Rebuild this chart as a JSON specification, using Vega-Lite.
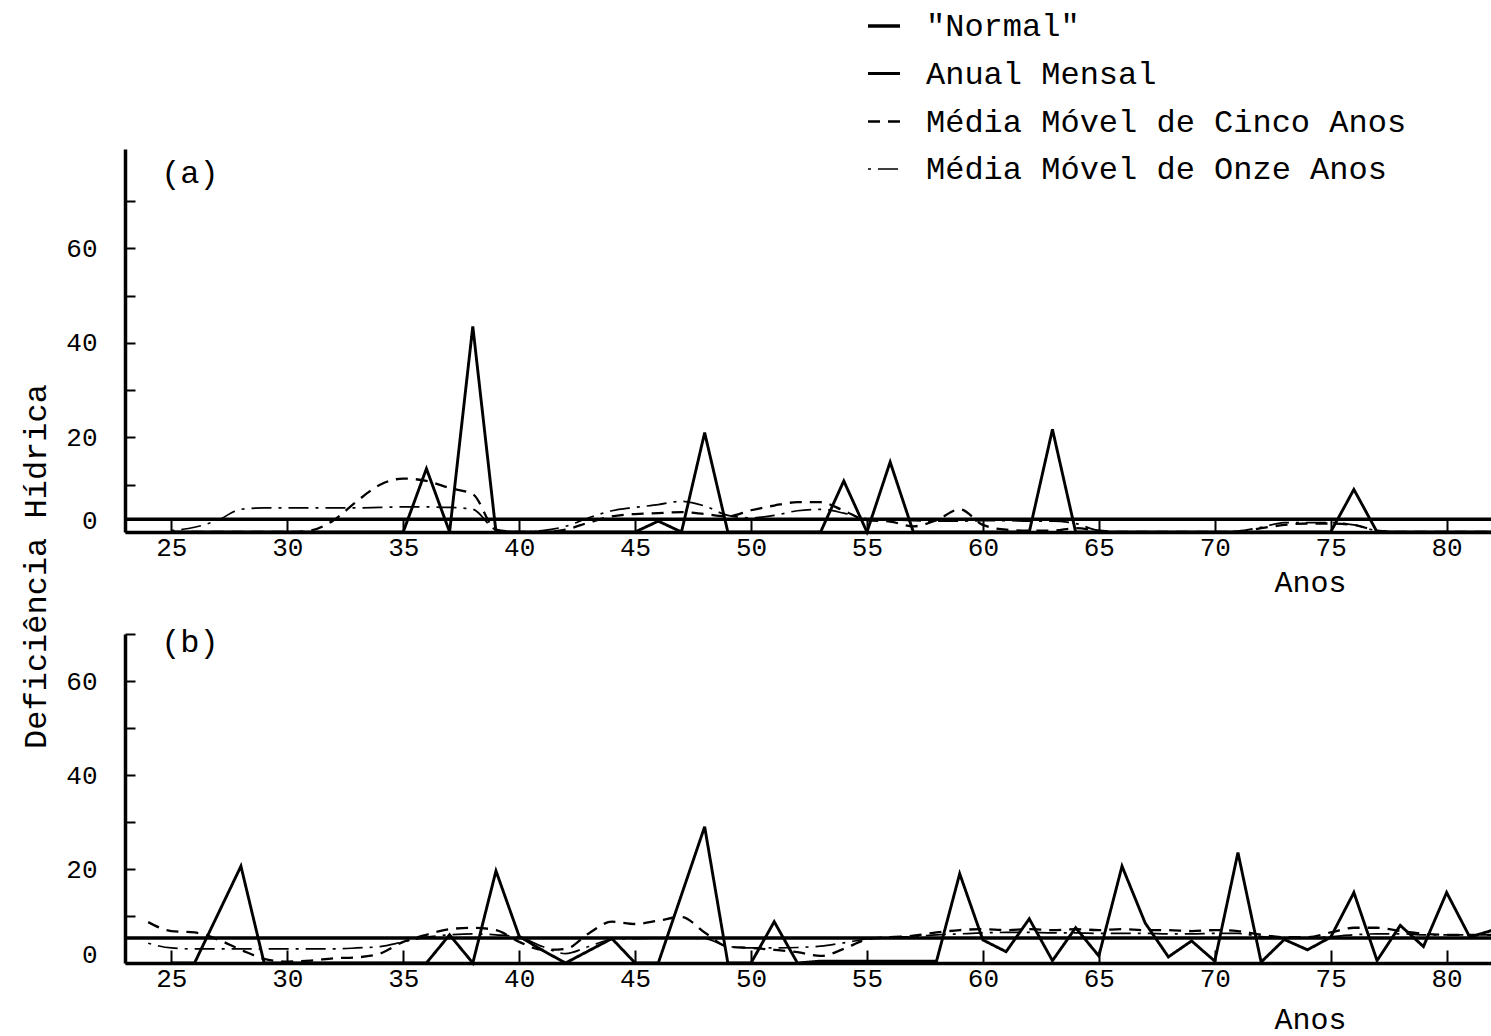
{
  "$schema": "https://vega.github.io/schema/vega-lite/v6.json",
  "background": "white",
  "autosize": {"type": "pad"},
  "padding": {"left": 19, "top": 8, "right": 0, "bottom": 12},
  "bounds": "flush",
  "spacing": 102,
  "config": {
    "view": {"stroke": null},
    "font": "Liberation Mono",
    "axis": {
      "grid": false,
      "domainColor": "black",
      "domainWidth": 3.5,
      "tickColor": "black",
      "tickWidth": 2,
      "labelColor": "black",
      "labelFont": "Liberation Mono",
      "labelFontSize": 26,
      "titleColor": "black",
      "titleFont": "Liberation Mono",
      "titleFontSize": 31,
      "titleFontWeight": "normal"
    },
    "legend": {
      "padding": 0,
      "labelFont": "Liberation Mono",
      "labelFontSize": 32,
      "labelColor": "black",
      "labelLimit": 0,
      "symbolType": "stroke",
      "symbolSize": 1024,
      "symbolStrokeColor": "black",
      "symbolStrokeWidth": 2.5,
      "labelOffset": 24,
      "rowPadding": 14
    }
  },
  "datasets": {
    "deficit": [
      {"painel":"a","serie":"\"Normal\"","ano":23,"valor":2.7},{"painel":"a","serie":"\"Normal\"","ano":82,"valor":2.7},
      {"painel":"a","serie":"Anual Mensal","ano":25,"valor":0},{"painel":"a","serie":"Anual Mensal","ano":26,"valor":0},{"painel":"a","serie":"Anual Mensal","ano":27,"valor":0},{"painel":"a","serie":"Anual Mensal","ano":28,"valor":0},{"painel":"a","serie":"Anual Mensal","ano":29,"valor":0},{"painel":"a","serie":"Anual Mensal","ano":30,"valor":0},{"painel":"a","serie":"Anual Mensal","ano":31,"valor":0},{"painel":"a","serie":"Anual Mensal","ano":32,"valor":0},{"painel":"a","serie":"Anual Mensal","ano":33,"valor":0},{"painel":"a","serie":"Anual Mensal","ano":34,"valor":0},{"painel":"a","serie":"Anual Mensal","ano":35,"valor":0},{"painel":"a","serie":"Anual Mensal","ano":36,"valor":13.4},{"painel":"a","serie":"Anual Mensal","ano":37,"valor":0},{"painel":"a","serie":"Anual Mensal","ano":38,"valor":43.5},{"painel":"a","serie":"Anual Mensal","ano":39,"valor":0},{"painel":"a","serie":"Anual Mensal","ano":40,"valor":0},{"painel":"a","serie":"Anual Mensal","ano":41,"valor":0},{"painel":"a","serie":"Anual Mensal","ano":42,"valor":0},{"painel":"a","serie":"Anual Mensal","ano":43,"valor":0},{"painel":"a","serie":"Anual Mensal","ano":44,"valor":0},{"painel":"a","serie":"Anual Mensal","ano":45,"valor":0},{"painel":"a","serie":"Anual Mensal","ano":46,"valor":2.3},{"painel":"a","serie":"Anual Mensal","ano":47,"valor":0},{"painel":"a","serie":"Anual Mensal","ano":48,"valor":21},{"painel":"a","serie":"Anual Mensal","ano":49,"valor":0},{"painel":"a","serie":"Anual Mensal","ano":50,"valor":0},{"painel":"a","serie":"Anual Mensal","ano":51,"valor":0},{"painel":"a","serie":"Anual Mensal","ano":52,"valor":0},{"painel":"a","serie":"Anual Mensal","ano":53,"valor":0},{"painel":"a","serie":"Anual Mensal","ano":54,"valor":10.8},{"painel":"a","serie":"Anual Mensal","ano":55,"valor":0},{"painel":"a","serie":"Anual Mensal","ano":56,"valor":14.8},{"painel":"a","serie":"Anual Mensal","ano":57,"valor":0},{"painel":"a","serie":"Anual Mensal","ano":58,"valor":0},{"painel":"a","serie":"Anual Mensal","ano":59,"valor":0},{"painel":"a","serie":"Anual Mensal","ano":60,"valor":0},{"painel":"a","serie":"Anual Mensal","ano":61,"valor":0},{"painel":"a","serie":"Anual Mensal","ano":62,"valor":0},{"painel":"a","serie":"Anual Mensal","ano":63,"valor":21.7},{"painel":"a","serie":"Anual Mensal","ano":64,"valor":0},{"painel":"a","serie":"Anual Mensal","ano":65,"valor":0},{"painel":"a","serie":"Anual Mensal","ano":66,"valor":0},{"painel":"a","serie":"Anual Mensal","ano":67,"valor":0},{"painel":"a","serie":"Anual Mensal","ano":68,"valor":0},{"painel":"a","serie":"Anual Mensal","ano":69,"valor":0},{"painel":"a","serie":"Anual Mensal","ano":70,"valor":0},{"painel":"a","serie":"Anual Mensal","ano":71,"valor":0},{"painel":"a","serie":"Anual Mensal","ano":72,"valor":0},{"painel":"a","serie":"Anual Mensal","ano":73,"valor":0},{"painel":"a","serie":"Anual Mensal","ano":74,"valor":0},{"painel":"a","serie":"Anual Mensal","ano":75,"valor":0},{"painel":"a","serie":"Anual Mensal","ano":76,"valor":9},{"painel":"a","serie":"Anual Mensal","ano":77,"valor":0},{"painel":"a","serie":"Anual Mensal","ano":78,"valor":0},{"painel":"a","serie":"Anual Mensal","ano":79,"valor":0},{"painel":"a","serie":"Anual Mensal","ano":80,"valor":0},{"painel":"a","serie":"Anual Mensal","ano":81,"valor":0},{"painel":"a","serie":"Anual Mensal","ano":82,"valor":0},
      {"painel":"a","serie":"Média Móvel de Cinco Anos","ano":25,"valor":0},{"painel":"a","serie":"Média Móvel de Cinco Anos","ano":26,"valor":0},{"painel":"a","serie":"Média Móvel de Cinco Anos","ano":27,"valor":0},{"painel":"a","serie":"Média Móvel de Cinco Anos","ano":28,"valor":0},{"painel":"a","serie":"Média Móvel de Cinco Anos","ano":29,"valor":0},{"painel":"a","serie":"Média Móvel de Cinco Anos","ano":30,"valor":0},{"painel":"a","serie":"Média Móvel de Cinco Anos","ano":31,"valor":0.3},{"painel":"a","serie":"Média Móvel de Cinco Anos","ano":32,"valor":2.5},{"painel":"a","serie":"Média Móvel de Cinco Anos","ano":33,"valor":6.5},{"painel":"a","serie":"Média Móvel de Cinco Anos","ano":34,"valor":10},{"painel":"a","serie":"Média Móvel de Cinco Anos","ano":35,"valor":11.3},{"painel":"a","serie":"Média Móvel de Cinco Anos","ano":36,"valor":10.8},{"painel":"a","serie":"Média Móvel de Cinco Anos","ano":37,"valor":9.3},{"painel":"a","serie":"Média Móvel de Cinco Anos","ano":38,"valor":8},{"painel":"a","serie":"Média Móvel de Cinco Anos","ano":39,"valor":0.5},{"painel":"a","serie":"Média Móvel de Cinco Anos","ano":40,"valor":0},{"painel":"a","serie":"Média Móvel de Cinco Anos","ano":41,"valor":0},{"painel":"a","serie":"Média Móvel de Cinco Anos","ano":42,"valor":0.5},{"painel":"a","serie":"Média Móvel de Cinco Anos","ano":43,"valor":2},{"painel":"a","serie":"Média Móvel de Cinco Anos","ano":44,"valor":3.3},{"painel":"a","serie":"Média Móvel de Cinco Anos","ano":45,"valor":3.8},{"painel":"a","serie":"Média Móvel de Cinco Anos","ano":46,"valor":4},{"painel":"a","serie":"Média Móvel de Cinco Anos","ano":47,"valor":4.2},{"painel":"a","serie":"Média Móvel de Cinco Anos","ano":48,"valor":3.8},{"painel":"a","serie":"Média Móvel de Cinco Anos","ano":49,"valor":3.3},{"painel":"a","serie":"Média Móvel de Cinco Anos","ano":50,"valor":4.6},{"painel":"a","serie":"Média Móvel de Cinco Anos","ano":51,"valor":5.6},{"painel":"a","serie":"Média Móvel de Cinco Anos","ano":52,"valor":6.3},{"painel":"a","serie":"Média Móvel de Cinco Anos","ano":53,"valor":6.3},{"painel":"a","serie":"Média Móvel de Cinco Anos","ano":54,"valor":4.5},{"painel":"a","serie":"Média Móvel de Cinco Anos","ano":55,"valor":2.5},{"painel":"a","serie":"Média Móvel de Cinco Anos","ano":56,"valor":2.2},{"painel":"a","serie":"Média Móvel de Cinco Anos","ano":57,"valor":1.2},{"painel":"a","serie":"Média Móvel de Cinco Anos","ano":58,"valor":2.5},{"painel":"a","serie":"Média Móvel de Cinco Anos","ano":59,"valor":4.8},{"painel":"a","serie":"Média Móvel de Cinco Anos","ano":60,"valor":1.5},{"painel":"a","serie":"Média Móvel de Cinco Anos","ano":61,"valor":0.5},{"painel":"a","serie":"Média Móvel de Cinco Anos","ano":62,"valor":0.3},{"painel":"a","serie":"Média Móvel de Cinco Anos","ano":63,"valor":0.3},{"painel":"a","serie":"Média Móvel de Cinco Anos","ano":64,"valor":0.8},{"painel":"a","serie":"Média Móvel de Cinco Anos","ano":65,"valor":0.3},{"painel":"a","serie":"Média Móvel de Cinco Anos","ano":66,"valor":0},{"painel":"a","serie":"Média Móvel de Cinco Anos","ano":67,"valor":0},{"painel":"a","serie":"Média Móvel de Cinco Anos","ano":68,"valor":0},{"painel":"a","serie":"Média Móvel de Cinco Anos","ano":69,"valor":0},{"painel":"a","serie":"Média Móvel de Cinco Anos","ano":70,"valor":0},{"painel":"a","serie":"Média Móvel de Cinco Anos","ano":71,"valor":0},{"painel":"a","serie":"Média Móvel de Cinco Anos","ano":72,"valor":0.8},{"painel":"a","serie":"Média Móvel de Cinco Anos","ano":73,"valor":1.5},{"painel":"a","serie":"Média Móvel de Cinco Anos","ano":74,"valor":1.8},{"painel":"a","serie":"Média Móvel de Cinco Anos","ano":75,"valor":1.8},{"painel":"a","serie":"Média Móvel de Cinco Anos","ano":76,"valor":1.5},{"painel":"a","serie":"Média Móvel de Cinco Anos","ano":77,"valor":0.3},{"painel":"a","serie":"Média Móvel de Cinco Anos","ano":78,"valor":0},{"painel":"a","serie":"Média Móvel de Cinco Anos","ano":79,"valor":0},{"painel":"a","serie":"Média Móvel de Cinco Anos","ano":80,"valor":0},{"painel":"a","serie":"Média Móvel de Cinco Anos","ano":81,"valor":0},{"painel":"a","serie":"Média Móvel de Cinco Anos","ano":82,"valor":0},
      {"painel":"a","serie":"Média Móvel de Onze Anos","ano":25,"valor":0.3},{"painel":"a","serie":"Média Móvel de Onze Anos","ano":26,"valor":1},{"painel":"a","serie":"Média Móvel de Onze Anos","ano":27,"valor":2.5},{"painel":"a","serie":"Média Móvel de Onze Anos","ano":28,"valor":4.8},{"painel":"a","serie":"Média Móvel de Onze Anos","ano":29,"valor":5.1},{"painel":"a","serie":"Média Móvel de Onze Anos","ano":30,"valor":5.1},{"painel":"a","serie":"Média Móvel de Onze Anos","ano":31,"valor":5.1},{"painel":"a","serie":"Média Móvel de Onze Anos","ano":32,"valor":5.1},{"painel":"a","serie":"Média Móvel de Onze Anos","ano":33,"valor":5.1},{"painel":"a","serie":"Média Móvel de Onze Anos","ano":34,"valor":5.2},{"painel":"a","serie":"Média Móvel de Onze Anos","ano":35,"valor":5.3},{"painel":"a","serie":"Média Móvel de Onze Anos","ano":36,"valor":5.3},{"painel":"a","serie":"Média Móvel de Onze Anos","ano":37,"valor":5.2},{"painel":"a","serie":"Média Móvel de Onze Anos","ano":38,"valor":4.8},{"painel":"a","serie":"Média Móvel de Onze Anos","ano":39,"valor":0.5},{"painel":"a","serie":"Média Móvel de Onze Anos","ano":40,"valor":0},{"painel":"a","serie":"Média Móvel de Onze Anos","ano":41,"valor":0.3},{"painel":"a","serie":"Média Móvel de Onze Anos","ano":42,"valor":1.2},{"painel":"a","serie":"Média Móvel de Onze Anos","ano":43,"valor":3},{"painel":"a","serie":"Média Móvel de Onze Anos","ano":44,"valor":4.5},{"painel":"a","serie":"Média Móvel de Onze Anos","ano":45,"valor":5.2},{"painel":"a","serie":"Média Móvel de Onze Anos","ano":46,"valor":5.8},{"painel":"a","serie":"Média Móvel de Onze Anos","ano":47,"valor":6.5},{"painel":"a","serie":"Média Móvel de Onze Anos","ano":48,"valor":5.5},{"painel":"a","serie":"Média Móvel de Onze Anos","ano":49,"valor":3.5},{"painel":"a","serie":"Média Móvel de Onze Anos","ano":50,"valor":3},{"painel":"a","serie":"Média Móvel de Onze Anos","ano":51,"valor":3.5},{"painel":"a","serie":"Média Móvel de Onze Anos","ano":52,"valor":4.5},{"painel":"a","serie":"Média Móvel de Onze Anos","ano":53,"valor":4.8},{"painel":"a","serie":"Média Móvel de Onze Anos","ano":54,"valor":4},{"painel":"a","serie":"Média Móvel de Onze Anos","ano":55,"valor":2.8},{"painel":"a","serie":"Média Móvel de Onze Anos","ano":56,"valor":2.6},{"painel":"a","serie":"Média Móvel de Onze Anos","ano":57,"valor":2.4},{"painel":"a","serie":"Média Móvel de Onze Anos","ano":58,"valor":2.3},{"painel":"a","serie":"Média Móvel de Onze Anos","ano":59,"valor":2.3},{"painel":"a","serie":"Média Móvel de Onze Anos","ano":60,"valor":2.4},{"painel":"a","serie":"Média Móvel de Onze Anos","ano":61,"valor":2.4},{"painel":"a","serie":"Média Móvel de Onze Anos","ano":62,"valor":2.3},{"painel":"a","serie":"Média Móvel de Onze Anos","ano":63,"valor":2.3},{"painel":"a","serie":"Média Móvel de Onze Anos","ano":64,"valor":1.8},{"painel":"a","serie":"Média Móvel de Onze Anos","ano":65,"valor":0.3},{"painel":"a","serie":"Média Móvel de Onze Anos","ano":66,"valor":0},{"painel":"a","serie":"Média Móvel de Onze Anos","ano":67,"valor":0},{"painel":"a","serie":"Média Móvel de Onze Anos","ano":68,"valor":0},{"painel":"a","serie":"Média Móvel de Onze Anos","ano":69,"valor":0},{"painel":"a","serie":"Média Móvel de Onze Anos","ano":70,"valor":0},{"painel":"a","serie":"Média Móvel de Onze Anos","ano":71,"valor":0.2},{"painel":"a","serie":"Média Móvel de Onze Anos","ano":72,"valor":1},{"painel":"a","serie":"Média Móvel de Onze Anos","ano":73,"valor":2},{"painel":"a","serie":"Média Móvel de Onze Anos","ano":74,"valor":2},{"painel":"a","serie":"Média Móvel de Onze Anos","ano":75,"valor":2},{"painel":"a","serie":"Média Móvel de Onze Anos","ano":76,"valor":1.5},{"painel":"a","serie":"Média Móvel de Onze Anos","ano":77,"valor":0.3},{"painel":"a","serie":"Média Móvel de Onze Anos","ano":78,"valor":0},{"painel":"a","serie":"Média Móvel de Onze Anos","ano":79,"valor":0},{"painel":"a","serie":"Média Móvel de Onze Anos","ano":80,"valor":0},{"painel":"a","serie":"Média Móvel de Onze Anos","ano":81,"valor":0},{"painel":"a","serie":"Média Móvel de Onze Anos","ano":82,"valor":0},
      {"painel":"b","serie":"\"Normal\"","ano":23,"valor":5.3},{"painel":"b","serie":"\"Normal\"","ano":82,"valor":5.3},
      {"painel":"b","serie":"Anual Mensal","ano":25,"valor":0},{"painel":"b","serie":"Anual Mensal","ano":26,"valor":0},{"painel":"b","serie":"Anual Mensal","ano":27,"valor":10.3},{"painel":"b","serie":"Anual Mensal","ano":28,"valor":20.6},{"painel":"b","serie":"Anual Mensal","ano":29,"valor":0},{"painel":"b","serie":"Anual Mensal","ano":30,"valor":0},{"painel":"b","serie":"Anual Mensal","ano":31,"valor":0},{"painel":"b","serie":"Anual Mensal","ano":32,"valor":0},{"painel":"b","serie":"Anual Mensal","ano":33,"valor":0},{"painel":"b","serie":"Anual Mensal","ano":34,"valor":0},{"painel":"b","serie":"Anual Mensal","ano":35,"valor":0},{"painel":"b","serie":"Anual Mensal","ano":36,"valor":0},{"painel":"b","serie":"Anual Mensal","ano":37,"valor":6},{"painel":"b","serie":"Anual Mensal","ano":38,"valor":0},{"painel":"b","serie":"Anual Mensal","ano":39,"valor":19.6},{"painel":"b","serie":"Anual Mensal","ano":40,"valor":5.7},{"painel":"b","serie":"Anual Mensal","ano":41,"valor":2.7},{"painel":"b","serie":"Anual Mensal","ano":42,"valor":0},{"painel":"b","serie":"Anual Mensal","ano":43,"valor":2.6},{"painel":"b","serie":"Anual Mensal","ano":44,"valor":5.2},{"painel":"b","serie":"Anual Mensal","ano":45,"valor":0},{"painel":"b","serie":"Anual Mensal","ano":46,"valor":0},{"painel":"b","serie":"Anual Mensal","ano":47,"valor":14.5},{"painel":"b","serie":"Anual Mensal","ano":48,"valor":29},{"painel":"b","serie":"Anual Mensal","ano":49,"valor":0},{"painel":"b","serie":"Anual Mensal","ano":50,"valor":0},{"painel":"b","serie":"Anual Mensal","ano":51,"valor":8.8},{"painel":"b","serie":"Anual Mensal","ano":52,"valor":0},{"painel":"b","serie":"Anual Mensal","ano":53,"valor":0.4},{"painel":"b","serie":"Anual Mensal","ano":54,"valor":0.4},{"painel":"b","serie":"Anual Mensal","ano":55,"valor":0.4},{"painel":"b","serie":"Anual Mensal","ano":56,"valor":0.4},{"painel":"b","serie":"Anual Mensal","ano":57,"valor":0.4},{"painel":"b","serie":"Anual Mensal","ano":58,"valor":0.4},{"painel":"b","serie":"Anual Mensal","ano":59,"valor":19},{"painel":"b","serie":"Anual Mensal","ano":60,"valor":4.9},{"painel":"b","serie":"Anual Mensal","ano":61,"valor":2.4},{"painel":"b","serie":"Anual Mensal","ano":62,"valor":9.4},{"painel":"b","serie":"Anual Mensal","ano":63,"valor":0.5},{"painel":"b","serie":"Anual Mensal","ano":64,"valor":7.5},{"painel":"b","serie":"Anual Mensal","ano":65,"valor":1.5},{"painel":"b","serie":"Anual Mensal","ano":66,"valor":20.6},{"painel":"b","serie":"Anual Mensal","ano":67,"valor":8.5},{"painel":"b","serie":"Anual Mensal","ano":68,"valor":1.3},{"painel":"b","serie":"Anual Mensal","ano":69,"valor":4.7},{"painel":"b","serie":"Anual Mensal","ano":70,"valor":0.4},{"painel":"b","serie":"Anual Mensal","ano":71,"valor":23.5},{"painel":"b","serie":"Anual Mensal","ano":72,"valor":0.2},{"painel":"b","serie":"Anual Mensal","ano":73,"valor":5},{"painel":"b","serie":"Anual Mensal","ano":74,"valor":2.8},{"painel":"b","serie":"Anual Mensal","ano":75,"valor":5.5},{"painel":"b","serie":"Anual Mensal","ano":76,"valor":15},{"painel":"b","serie":"Anual Mensal","ano":77,"valor":0.5},{"painel":"b","serie":"Anual Mensal","ano":78,"valor":8},{"painel":"b","serie":"Anual Mensal","ano":79,"valor":3.5},{"painel":"b","serie":"Anual Mensal","ano":80,"valor":15},{"painel":"b","serie":"Anual Mensal","ano":81,"valor":5.5},{"painel":"b","serie":"Anual Mensal","ano":82,"valor":7},
      {"painel":"b","serie":"Média Móvel de Cinco Anos","ano":24,"valor":8.7},{"painel":"b","serie":"Média Móvel de Cinco Anos","ano":25,"valor":6.8},{"painel":"b","serie":"Média Móvel de Cinco Anos","ano":26,"valor":6.5},{"painel":"b","serie":"Média Móvel de Cinco Anos","ano":27,"valor":5},{"painel":"b","serie":"Média Móvel de Cinco Anos","ano":28,"valor":2.8},{"painel":"b","serie":"Média Móvel de Cinco Anos","ano":29,"valor":0.9},{"painel":"b","serie":"Média Móvel de Cinco Anos","ano":30,"valor":0.3},{"painel":"b","serie":"Média Móvel de Cinco Anos","ano":31,"valor":0.5},{"painel":"b","serie":"Média Móvel de Cinco Anos","ano":32,"valor":1},{"painel":"b","serie":"Média Móvel de Cinco Anos","ano":33,"valor":1.2},{"painel":"b","serie":"Média Móvel de Cinco Anos","ano":34,"valor":2},{"painel":"b","serie":"Média Móvel de Cinco Anos","ano":35,"valor":4.5},{"painel":"b","serie":"Média Móvel de Cinco Anos","ano":36,"valor":6},{"painel":"b","serie":"Média Móvel de Cinco Anos","ano":37,"valor":7.2},{"painel":"b","serie":"Média Móvel de Cinco Anos","ano":38,"valor":7.5},{"painel":"b","serie":"Média Móvel de Cinco Anos","ano":39,"valor":7},{"painel":"b","serie":"Média Móvel de Cinco Anos","ano":40,"valor":4.5},{"painel":"b","serie":"Média Móvel de Cinco Anos","ano":41,"valor":2.8},{"painel":"b","serie":"Média Móvel de Cinco Anos","ano":42,"valor":3},{"painel":"b","serie":"Média Móvel de Cinco Anos","ano":43,"valor":6.3},{"painel":"b","serie":"Média Móvel de Cinco Anos","ano":44,"valor":8.8},{"painel":"b","serie":"Média Móvel de Cinco Anos","ano":45,"valor":8.3},{"painel":"b","serie":"Média Móvel de Cinco Anos","ano":46,"valor":9},{"painel":"b","serie":"Média Móvel de Cinco Anos","ano":47,"valor":9.8},{"painel":"b","serie":"Média Móvel de Cinco Anos","ano":48,"valor":6.5},{"painel":"b","serie":"Média Móvel de Cinco Anos","ano":49,"valor":3.5},{"painel":"b","serie":"Média Móvel de Cinco Anos","ano":50,"valor":3.2},{"painel":"b","serie":"Média Móvel de Cinco Anos","ano":51,"valor":2.8},{"painel":"b","serie":"Média Móvel de Cinco Anos","ano":52,"valor":2.3},{"painel":"b","serie":"Média Móvel de Cinco Anos","ano":53,"valor":1.5},{"painel":"b","serie":"Média Móvel de Cinco Anos","ano":54,"valor":3},{"painel":"b","serie":"Média Móvel de Cinco Anos","ano":55,"valor":5},{"painel":"b","serie":"Média Móvel de Cinco Anos","ano":56,"valor":5.5},{"painel":"b","serie":"Média Móvel de Cinco Anos","ano":57,"valor":5.8},{"painel":"b","serie":"Média Móvel de Cinco Anos","ano":58,"valor":6.5},{"painel":"b","serie":"Média Móvel de Cinco Anos","ano":59,"valor":7},{"painel":"b","serie":"Média Móvel de Cinco Anos","ano":60,"valor":7.2},{"painel":"b","serie":"Média Móvel de Cinco Anos","ano":61,"valor":7},{"painel":"b","serie":"Média Móvel de Cinco Anos","ano":62,"valor":7.2},{"painel":"b","serie":"Média Móvel de Cinco Anos","ano":63,"valor":7},{"painel":"b","serie":"Média Móvel de Cinco Anos","ano":64,"valor":7.2},{"painel":"b","serie":"Média Móvel de Cinco Anos","ano":65,"valor":7},{"painel":"b","serie":"Média Móvel de Cinco Anos","ano":66,"valor":7.2},{"painel":"b","serie":"Média Móvel de Cinco Anos","ano":67,"valor":7},{"painel":"b","serie":"Média Móvel de Cinco Anos","ano":68,"valor":7},{"painel":"b","serie":"Média Móvel de Cinco Anos","ano":69,"valor":6.8},{"painel":"b","serie":"Média Móvel de Cinco Anos","ano":70,"valor":7},{"painel":"b","serie":"Média Móvel de Cinco Anos","ano":71,"valor":6.8},{"painel":"b","serie":"Média Móvel de Cinco Anos","ano":72,"valor":6},{"painel":"b","serie":"Média Móvel de Cinco Anos","ano":73,"valor":5.5},{"painel":"b","serie":"Média Móvel de Cinco Anos","ano":74,"valor":5.5},{"painel":"b","serie":"Média Móvel de Cinco Anos","ano":75,"valor":6.5},{"painel":"b","serie":"Média Móvel de Cinco Anos","ano":76,"valor":7.5},{"painel":"b","serie":"Média Móvel de Cinco Anos","ano":77,"valor":7.5},{"painel":"b","serie":"Média Móvel de Cinco Anos","ano":78,"valor":6.8},{"painel":"b","serie":"Média Móvel de Cinco Anos","ano":79,"valor":6.2},{"painel":"b","serie":"Média Móvel de Cinco Anos","ano":80,"valor":6},{"painel":"b","serie":"Média Móvel de Cinco Anos","ano":81,"valor":6},{"painel":"b","serie":"Média Móvel de Cinco Anos","ano":82,"valor":6},
      {"painel":"b","serie":"Média Móvel de Onze Anos","ano":24,"valor":4.2},{"painel":"b","serie":"Média Móvel de Onze Anos","ano":25,"valor":3.2},{"painel":"b","serie":"Média Móvel de Onze Anos","ano":26,"valor":3},{"painel":"b","serie":"Média Móvel de Onze Anos","ano":27,"valor":3},{"painel":"b","serie":"Média Móvel de Onze Anos","ano":28,"valor":3},{"painel":"b","serie":"Média Móvel de Onze Anos","ano":29,"valor":3},{"painel":"b","serie":"Média Móvel de Onze Anos","ano":30,"valor":3},{"painel":"b","serie":"Média Móvel de Onze Anos","ano":31,"valor":3},{"painel":"b","serie":"Média Móvel de Onze Anos","ano":32,"valor":3},{"painel":"b","serie":"Média Móvel de Onze Anos","ano":33,"valor":3.2},{"painel":"b","serie":"Média Móvel de Onze Anos","ano":34,"valor":3.5},{"painel":"b","serie":"Média Móvel de Onze Anos","ano":35,"valor":4.5},{"painel":"b","serie":"Média Móvel de Onze Anos","ano":36,"valor":5.5},{"painel":"b","serie":"Média Móvel de Onze Anos","ano":37,"valor":6},{"painel":"b","serie":"Média Móvel de Onze Anos","ano":38,"valor":6.2},{"painel":"b","serie":"Média Móvel de Onze Anos","ano":39,"valor":6},{"painel":"b","serie":"Média Móvel de Onze Anos","ano":40,"valor":5.5},{"painel":"b","serie":"Média Móvel de Onze Anos","ano":41,"valor":3.5},{"painel":"b","serie":"Média Móvel de Onze Anos","ano":42,"valor":2},{"painel":"b","serie":"Média Móvel de Onze Anos","ano":43,"valor":3.5},{"painel":"b","serie":"Média Móvel de Onze Anos","ano":44,"valor":5},{"painel":"b","serie":"Média Móvel de Onze Anos","ano":45,"valor":5.2},{"painel":"b","serie":"Média Móvel de Onze Anos","ano":46,"valor":5.3},{"painel":"b","serie":"Média Móvel de Onze Anos","ano":47,"valor":5.3},{"painel":"b","serie":"Média Móvel de Onze Anos","ano":48,"valor":5.2},{"painel":"b","serie":"Média Móvel de Onze Anos","ano":49,"valor":3.5},{"painel":"b","serie":"Média Móvel de Onze Anos","ano":50,"valor":3.2},{"painel":"b","serie":"Média Móvel de Onze Anos","ano":51,"valor":3.2},{"painel":"b","serie":"Média Móvel de Onze Anos","ano":52,"valor":3.3},{"painel":"b","serie":"Média Móvel de Onze Anos","ano":53,"valor":3.6},{"painel":"b","serie":"Média Móvel de Onze Anos","ano":54,"valor":4.3},{"painel":"b","serie":"Média Móvel de Onze Anos","ano":55,"valor":5.1},{"painel":"b","serie":"Média Móvel de Onze Anos","ano":56,"valor":5.5},{"painel":"b","serie":"Média Móvel de Onze Anos","ano":57,"valor":5.6},{"painel":"b","serie":"Média Móvel de Onze Anos","ano":58,"valor":6},{"painel":"b","serie":"Média Móvel de Onze Anos","ano":59,"valor":6.2},{"painel":"b","serie":"Média Móvel de Onze Anos","ano":60,"valor":6.4},{"painel":"b","serie":"Média Móvel de Onze Anos","ano":61,"valor":6.5},{"painel":"b","serie":"Média Móvel de Onze Anos","ano":62,"valor":6.5},{"painel":"b","serie":"Média Móvel de Onze Anos","ano":63,"valor":6.4},{"painel":"b","serie":"Média Móvel de Onze Anos","ano":64,"valor":6.4},{"painel":"b","serie":"Média Móvel de Onze Anos","ano":65,"valor":6.3},{"painel":"b","serie":"Média Móvel de Onze Anos","ano":66,"valor":6.3},{"painel":"b","serie":"Média Móvel de Onze Anos","ano":67,"valor":6.3},{"painel":"b","serie":"Média Móvel de Onze Anos","ano":68,"valor":6.2},{"painel":"b","serie":"Média Móvel de Onze Anos","ano":69,"valor":6.2},{"painel":"b","serie":"Média Móvel de Onze Anos","ano":70,"valor":6.3},{"painel":"b","serie":"Média Móvel de Onze Anos","ano":71,"valor":6.3},{"painel":"b","serie":"Média Móvel de Onze Anos","ano":72,"valor":5.6},{"painel":"b","serie":"Média Móvel de Onze Anos","ano":73,"valor":5.3},{"painel":"b","serie":"Média Móvel de Onze Anos","ano":74,"valor":5.3},{"painel":"b","serie":"Média Móvel de Onze Anos","ano":75,"valor":5.6},{"painel":"b","serie":"Média Móvel de Onze Anos","ano":76,"valor":6},{"painel":"b","serie":"Média Móvel de Onze Anos","ano":77,"valor":6.2},{"painel":"b","serie":"Média Móvel de Onze Anos","ano":78,"valor":6.2},{"painel":"b","serie":"Média Móvel de Onze Anos","ano":79,"valor":6},{"painel":"b","serie":"Média Móvel de Onze Anos","ano":80,"valor":6},{"painel":"b","serie":"Média Móvel de Onze Anos","ano":81,"valor":6},{"painel":"b","serie":"Média Móvel de Onze Anos","ano":82,"valor":6}
    ]
  },
  "vconcat": [
    {
      "width": 1368,
      "height": 383,
      "layer": [
        {
          "data": {"name": "deficit"},
          "transform": [{"filter": "datum.painel === 'a' && (datum.serie === '\"Normal\"' || datum.serie === 'Anual Mensal')"}],
          "mark": {"type": "line", "color": "black", "interpolate": "linear"},
          "encoding": {
            "x": {"field": "ano", "type": "quantitative",
              "scale": {"domain": [23, 82], "nice": false, "zero": false},
              "axis": {"title": "Anos", "values": [25, 30, 35, 40, 45, 50, 55, 60, 65, 70, 75, 80],
                "tickSize": -13, "labelPadding": 15, "titleX": 1185, "titleY": 50,
                "titleAlign": "center", "titleBaseline": "middle", "titleFontSize": 30}},
            "y": {"field": "valor", "type": "quantitative",
              "scale": {"domain": [0, 81], "nice": false},
              "axis": {"title": "Deficiência Hídrica", "values": [0, 10, 20, 30, 40, 50, 60, 70],
                "labelExpr": "datum.value % 20 === 0 ? datum.label : ''",
                "tickSize": -10, "labelPadding": 38,
                "labelOffset": {"condition": {"test": "datum.value === 0", "value": -12}, "value": 0},
                "titleX": -90, "titleY": 417, "titleAngle": -90,
                "titleAlign": "center", "titleBaseline": "middle", "titleFontSize": 32}},
            "strokeDash": {"field": "serie", "type": "nominal",
              "scale": {"domain": ["\"Normal\"", "Anual Mensal", "Média Móvel de Cinco Anos", "Média Móvel de Onze Anos"],
                "range": [[1, 0], [1, 0], [12, 8], [3, 7, 20, 7]]},
              "legend": {"title": null, "orient": "none", "legendX": 741, "legendY": -141}},
            "strokeWidth": {"field": "serie", "type": "nominal",
              "scale": {"domain": ["\"Normal\"", "Anual Mensal", "Média Móvel de Cinco Anos", "Média Móvel de Onze Anos"],
                "range": [3.5, 1.7, 3, 2.5]},
              "legend": null}
          }
        },
        {
          "data": {"name": "deficit"},
          "transform": [{"filter": "datum.painel === 'a' && (datum.serie === 'Média Móvel de Cinco Anos' || datum.serie === 'Média Móvel de Onze Anos')"}],
          "mark": {"type": "line", "color": "black", "interpolate": "monotone"},
          "encoding": {
            "x": {"field": "ano", "type": "quantitative"},
            "y": {"field": "valor", "type": "quantitative"},
            "strokeDash": {"field": "serie", "type": "nominal"},
            "strokeWidth": {"field": "serie", "type": "nominal", "legend": null}
          }
        },
        {
          "data": {"values": [{"rotulo": "(a)"}]},
          "mark": {"type": "text", "font": "Liberation Mono", "fontSize": 32, "color": "black", "align": "center", "baseline": "middle"},
          "encoding": {
            "x": {"datum": 25.8},
            "y": {"datum": 76},
            "text": {"field": "rotulo"}
          }
        }
      ]
    },
    {
      "width": 1368,
      "height": 329,
      "layer": [
        {
          "data": {"name": "deficit"},
          "transform": [{"filter": "datum.painel === 'b' && (datum.serie === '\"Normal\"' || datum.serie === 'Anual Mensal')"}],
          "mark": {"type": "line", "color": "black", "interpolate": "linear"},
          "encoding": {
            "x": {"field": "ano", "type": "quantitative",
              "scale": {"domain": [23, 82], "nice": false, "zero": false},
              "axis": {"title": "Anos", "values": [25, 30, 35, 40, 45, 50, 55, 60, 65, 70, 75, 80],
                "tickSize": -13, "labelPadding": 15, "titleX": 1185, "titleY": 56,
                "titleAlign": "center", "titleBaseline": "middle", "titleFontSize": 30}},
            "y": {"field": "valor", "type": "quantitative",
              "scale": {"domain": [0, 70], "nice": false},
              "axis": {"title": null, "values": [0, 10, 20, 30, 40, 50, 60, 70],
                "labelExpr": "datum.value % 20 === 0 ? datum.label : ''",
                "tickSize": -10, "labelPadding": 38,
                "labelOffset": {"condition": {"test": "datum.value === 0", "value": -9}, "value": 0}}},
            "strokeDash": {"field": "serie", "type": "nominal",
              "scale": {"domain": ["\"Normal\"", "Anual Mensal", "Média Móvel de Cinco Anos", "Média Móvel de Onze Anos"],
                "range": [[1, 0], [1, 0], [12, 8], [3, 7, 20, 7]]},
              "legend": null},
            "strokeWidth": {"field": "serie", "type": "nominal",
              "scale": {"domain": ["\"Normal\"", "Anual Mensal", "Média Móvel de Cinco Anos", "Média Móvel de Onze Anos"],
                "range": [3.5, 1.7, 3, 2.5]},
              "legend": null}
          }
        },
        {
          "data": {"name": "deficit"},
          "transform": [{"filter": "datum.painel === 'b' && (datum.serie === 'Média Móvel de Cinco Anos' || datum.serie === 'Média Móvel de Onze Anos')"}],
          "mark": {"type": "line", "color": "black", "interpolate": "monotone"},
          "encoding": {
            "x": {"field": "ano", "type": "quantitative"},
            "y": {"field": "valor", "type": "quantitative"},
            "strokeDash": {"field": "serie", "type": "nominal", "legend": null},
            "strokeWidth": {"field": "serie", "type": "nominal", "legend": null}
          }
        },
        {
          "data": {"values": [{"rotulo": "(b)"}]},
          "mark": {"type": "text", "font": "Liberation Mono", "fontSize": 32, "color": "black", "align": "center", "baseline": "middle"},
          "encoding": {
            "x": {"datum": 25.8},
            "y": {"datum": 68.3},
            "text": {"field": "rotulo"}
          }
        }
      ]
    }
  ],
  "resolve": {"scale": {"strokeDash": "independent", "strokeWidth": "independent"}, "legend": {"strokeDash": "independent"}}
}
